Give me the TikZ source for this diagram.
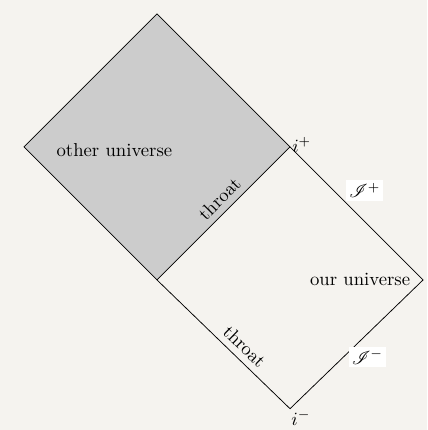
\documentclass[tikz,border=0pt]{standalone}
\usepackage{mathrsfs}
\definecolor{paper}{HTML}{F5F3EF}
\begin{document}
\begin{tikzpicture}[
    edge/.style={draw, thin},
    region/.style={font=\normalsize},
    scri/.style={fill=white, inner sep=1.5pt},
    throatlabel/.style={sloped, font=\normalsize}
]
% Page frame
\fill[paper] (0,0) rectangle (8.03,8.08);
\useasboundingbox (0,0) rectangle (8.03,8.08);

% Corners
\coordinate (top) at (2.95,7.82);
\coordinate (left) at (0.45,5.32);
\coordinate (iplus) at (5.45,5.32);
\coordinate (mid) at (2.95,2.82);
\coordinate (right) at (7.95,2.82);
\coordinate (iminus) at (5.45,0.40);

% Other universe
\fill[black!20] (top) -- (iplus) -- (mid) -- (left) -- cycle;
\draw[edge] (mid) -- (left) -- (top) -- (iplus);

% Our universe
\draw[edge] (iplus) -- (right) -- (iminus) -- (mid)
    node[throatlabel, pos=0.41, above] {throat};
\draw[edge] (mid) -- (iplus)
    node[throatlabel, pos=0.54, above] {throat};

% Labels
\node[region, anchor=west] at (0.94,5.26) {other universe};
\node[region, anchor=east, xshift=-0.12cm] at (right) {our universe};
\node[anchor=base west, inner sep=1pt, yshift=-0.1cm] at (iplus) {$i^+$};
\node[anchor=north west, inner sep=0.5pt, yshift=-0.01cm] at (iminus) {$i^-$};
\path (iplus) -- (right) node[scri, pos=0.42, anchor=south west, yshift=0.03cm] {$\mathscr{I}^+$};
\path (iminus) -- (right) node[scri, pos=0.44, anchor=west, yshift=-0.09cm] {$\mathscr{I}^-$};
\end{tikzpicture}
\end{document}
